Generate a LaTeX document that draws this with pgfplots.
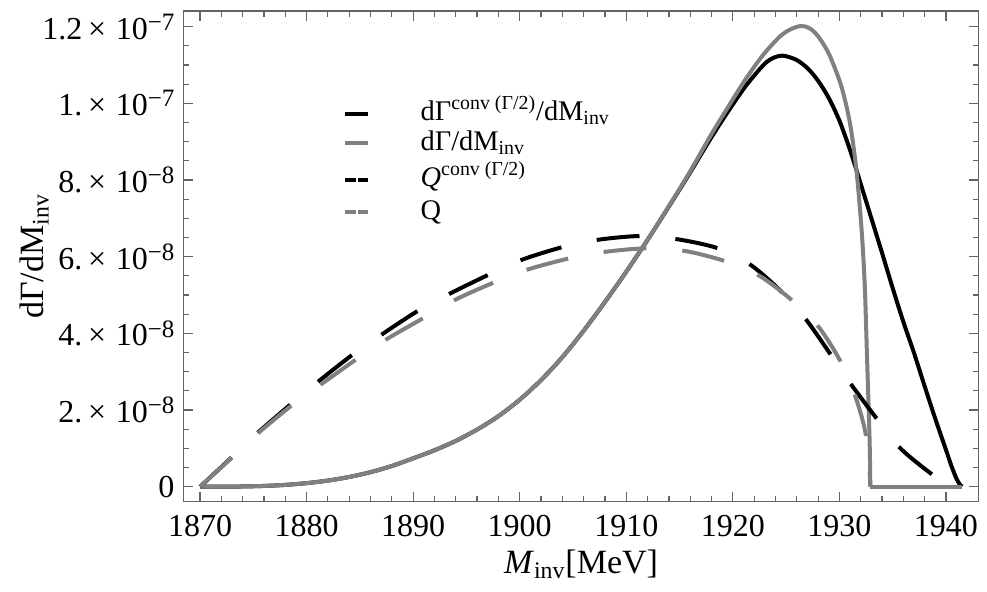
\documentclass[border=0pt]{standalone}
\usepackage{fontspec}
\setmainfont{Liberation Serif}
\usepackage{pgfplots}
\pgfplotsset{compat=1.18}
\definecolor{framegray}{RGB}{100,100,100}
\definecolor{curvegray}{RGB}{128,128,128}
\newcommand{\sci}[2]{#1\kern0.18em×\kern0.3em10\raisebox{4.4bp}{\fontsize{12.5bp}{12bp}\selectfont −#2}}
% legend entry with fixed height above baseline and 5bp depth: \legrow{height}{text}
\newcommand{\legrow}[2]{\rule[-5bp]{0pt}{#1}\smash{#2}}
\pgfplotsset{
  solidimg/.style={legend image code/.code={\draw[##1] (0bp,3.35bp) -- (11.5bp,3.35bp); \path (36.7bp,3.35bp);}},
  dashimg/.style={legend image code/.code={\draw[##1, dash pattern=on 5.2bp off 1.3bp] (0bp,3.35bp) -- (11.5bp,3.35bp); \path (36.7bp,3.35bp);}},
}

% y values in units of 1e-8
\pgfplotstableread{
x y
1870 0
1872 0.001
1874 0.006
1876 0.02
1878 0.047
1880 0.093
1882 0.16
1884 0.254
1886 0.379
1888 0.54
1890 0.74
1892 0.95
1894 1.195
1896 1.49
1898 1.84
1900 2.27
1902 2.78
1904 3.38
1906 4.07
1908 4.82
1910 5.61
1912 6.44
1914 7.31
1916 8.2
1918 9.12
1919.7 9.85
1921.2 10.45
1922.8 10.98
1923.6 11.16
1924.4 11.24
1925 11.23
1926 11.13
1927 10.92
1928 10.59
1929 10.14
1930 9.55
1931 8.78
1932 7.9
1933 7.0
1934 6.1
1935 5.18
1936 4.3
1937 3.49
1938 2.62
1939 1.77
1940 0.96
1940.5 0.55
1941 0.2
1941.3 0.06
1941.5 0
}\convdist

\pgfplotstableread{
x y
1870 0
1872 0.001
1874 0.006
1876 0.02
1878 0.047
1880 0.093
1882 0.16
1884 0.254
1886 0.379
1888 0.54
1890 0.74
1892 0.95
1894 1.195
1896 1.49
1898 1.84
1900 2.27
1902 2.78
1904 3.38
1906 4.07
1908 4.82
1910 5.61
1912 6.44
1914 7.32
1916 8.23
1918 9.2
1919.7 9.97
1921.2 10.63
1922.8 11.25
1924.4 11.74
1925.4 11.93
1926.4 12.02
1927.2 11.96
1928 11.75
1929 11.3
1930 10.6
1930.6 10.0
1931.1 9.3
1931.6 8.25
1932 7.0
1932.2 6.2
1932.4 5.1
1932.6 3.3
1932.75 2.0
1932.85 1.0
1932.9 0
}\dist

\pgfplotstableread{
x y
1932.9 0
1941.5 0
}\distzero

\pgfplotstableread{
x y
1870 0
1872.8 0.72
1875.3 1.38
1878.6 2.17
1880.9 2.7
1884.2 3.42
1887.0 3.96
1890.4 4.58
1893.4 5.03
1897.0 5.52
1900.1 5.91
1904.0 6.25
1907.3 6.44
1911.3 6.54
1914.7 6.46
1918.6 6.22
1921.7 5.78
1924.7 5.05
1926.9 4.35
1929.2 3.44
1931.2 2.63
1933.6 1.74
1935.8 0.98
1938.9 0.28
1940.3 0.08
1941.5 0
}\convQ

\pgfplotstableread{
x y
1870 0
1872.8 0.71
1875.3 1.36
1878.6 2.12
1881.2 2.64
1884.5 3.29
1887.4 3.83
1890.9 4.39
1893.9 4.87
1897.6 5.33
1900.8 5.67
1904.7 5.96
1908.1 6.13
1912.0 6.22
1915.5 6.15
1919.2 5.89
1922.5 5.50
1925.6 4.85
1928.1 4.15
1930.2 3.22
1931.5 2.35
1932.3 1.6
1932.6 1.1
1932.8 0.6
1932.9 0
}\Q

\begin{document}
\begin{tikzpicture}
\begin{axis}[name=a,
  scale only axis, width=397.6bp, height=245.35bp,
  xmin=1868.45, xmax=1943.07, ymin=-0.391, ymax=12.41,
  xtick={1870,1880,...,1940}, minor x tick num=4,
  ytick={0,2,...,12}, minor y tick num=3,
  yticklabels={0,\sci{2.}{8},\sci{4.}{8},\sci{6.}{8},\sci{8.}{8},\sci{1.}{7},\sci{1.2}{7}},
  /pgf/number format/assume math mode=true,
  /pgf/number format/1000 sep={},
  tick label style={font=\fontsize{16bp}{18bp}\selectfont},
  xticklabel style={yshift=-3bp},
  yticklabel style={xshift=-1bp},
  label style={font=\fontsize{17bp}{19bp}\selectfont},
  axis line style={framegray, line width=0.6bp},
  tick style={framegray, line width=0.6bp},
  major tick length=5bp, minor tick length=3bp,
  xlabel={\textit{M}\textsubscript{inv}[MeV]},
  ylabel={dΓ/dM\textsubscript{inv}},
  ylabel shift=-11bp,
  ylabel style={yshift=1bp},
  legend style={draw=none, fill=none, inner sep=0pt,
    at={(rel axis cs:0.2005,0.839)}, anchor=north west,
    font=\fontsize{14.2bp}{16bp}\selectfont, row sep=0bp,
    nodes={inner sep=0pt}, cells={anchor=base west}},
]
\addplot[black, line width=2bp, smooth, tension=0.5, solidimg] table {\convdist};
\addlegendentry{\legrow{20bp}{dΓ\textsuperscript{conv (Γ/2)}/dM\textsubscript{inv}}}
\addplot[curvegray, line width=2bp, smooth, tension=0.5, solidimg] table {\dist};
\addlegendentry{\legrow{18.35bp}{dΓ/dM\textsubscript{inv}}}
\addplot[curvegray, line width=2bp, forget plot] table {\distzero};
\addplot[black, line width=2bp, smooth, tension=0.5, dash pattern=on 21.5bp off 18bp, dashimg] table {\convQ};
\addlegendentry{\legrow{21.65bp}{\textit{Q}\textsuperscript{conv (Γ/2)}}}
\addplot[curvegray, line width=2bp, smooth, tension=0.5, dash pattern=on 21.5bp off 18bp, dashimg] table {\Q};
\addlegendentry{\legrow{19.85bp}{Q}}
\end{axis}
\pgfresetboundingbox
\path[use as bounding box] ([shift={(-91.75bp,-45.15bp)}]a.south west) rectangle ([shift={(4.15bp,5.5bp)}]a.north east);
\end{tikzpicture}
\end{document}
